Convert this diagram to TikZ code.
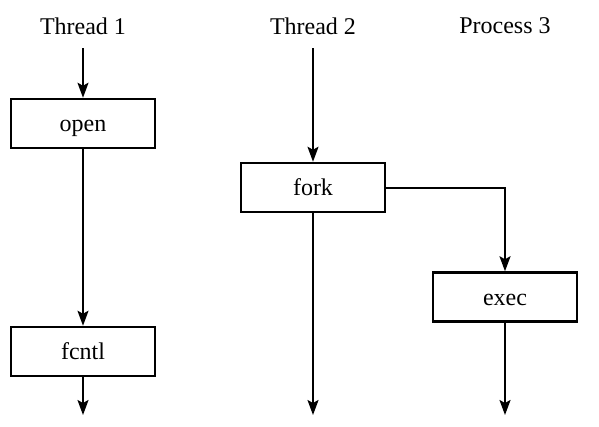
\documentclass[tikz,border=0pt]{standalone}
\usepackage{fontspec}
\setmainfont{Liberation Serif}
\usetikzlibrary{arrows.meta}

\tikzset{
    callbox/.style={draw, line width=2.5pt, minimum width=144pt, minimum height=49pt, inner sep=0pt, text height=16pt, text depth=0pt},
    flow/.style={line width=2pt, -{Stealth[length=15pt,width=11pt,inset=3pt]}}
}

\begin{document}
\begin{tikzpicture}[x=1pt, y=-1pt, font=\fontsize{24}{28}\selectfont]
    \useasboundingbox (0,0) rectangle (599,426);

    % Nodes
    \node (l1) at (83,26) {Thread 1};
    \node (l2) at (313,26) {Thread 2};
    \node (l3) at (505,26) {Process 3};

    \node[callbox] (open) at (83,123.5) {open};
    \node[callbox] (fcntl) at (83,351.5) {fcntl};
    \node[callbox] (fork) at (313,187.5) {fork};
    \node[callbox] (exec) at (505,297) {exec};

    \coordinate (s1) at (83,48);
    \coordinate (s2) at (313,48);
    \coordinate (e1) at (83,415);
    \coordinate (e2) at (313,415);
    \coordinate (e3) at (505,415);

    % Lines
    \draw[flow] (s1) -- (open.north);
    \draw[flow] (open.south) -- (fcntl.north);
    \draw[flow] (fcntl.south) -- (e1);

    \draw[flow] (s2) -- (fork.north);
    \draw[flow] (fork.south) -- (e2);
    \draw[flow] (fork.east) -| (exec.north);

    \draw[flow] (exec.south) -- (e3);
\end{tikzpicture}
\end{document}
